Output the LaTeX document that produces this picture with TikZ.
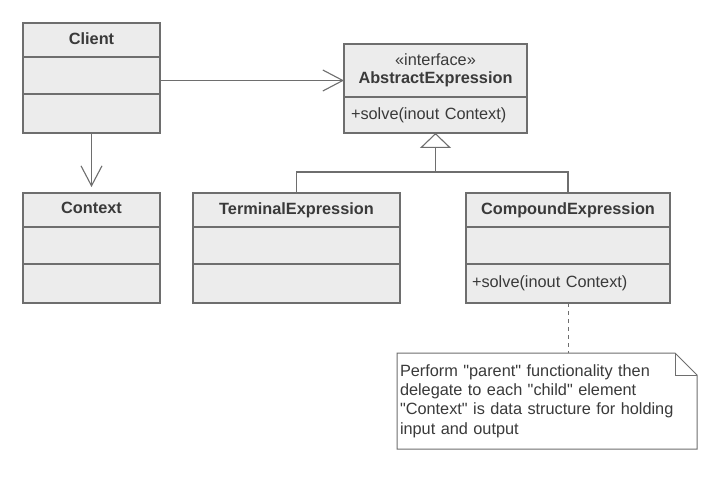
\documentclass[tikz,border=0pt]{standalone}
\usepackage{fontspec}
\setmainfont{Liberation Sans}
\newfontfamily\fontenota{Liberation Sans}
\usetikzlibrary{arrows.meta,positioning}

\definecolor{borda}{HTML}{6E6E6E}
\definecolor{fundo}{HTML}{ECECEC}
\definecolor{texto}{HTML}{3A3A3A}
\newcommand{\fonteuml}{\fontsize{16.3pt}{19.3pt}\selectfont}

\tikzset{
	caixa/.style={draw=borda,fill=fundo,line width=1.1pt,inner sep=0pt,outer sep=0pt,text=texto,font=\fonteuml,minimum width=#1},
	nome/.style={caixa=#1,minimum height=34pt,text depth=3.5pt,font=\fonteuml\bfseries},
	atrib/.style={caixa=#1,minimum height=37pt},
	vazio/.style={caixa=#1,minimum height=39pt},
	linha/.style={draw=borda,line width=1.1pt},
	assoc/.style={linha,-{Straight Barb[length=20pt,width=21pt]}},
	heranca/.style={linha,-{Triangle[length=15pt,width=31pt,fill=white]}},
	tracejado/.style={draw=borda,line width=0.9pt,dash pattern=on 4pt off 4pt},
	nota/.style={inner xsep=3pt,inner ysep=0pt,outer sep=0pt,text width=294pt,align=left,minimum width=300pt,minimum height=96pt,text=texto,font=\fontenota\fonteuml}
}

\begin{document}
\begin{tikzpicture}[x=1pt,y=-1pt]
	
	% fundo
	\fill[white] (0,0) rectangle (718,484);
	\useasboundingbox (0,0) rectangle (718,484);
	
	% Client
	\node[nome=137,anchor=north west] (client) at (23,23) {Client};
	\node[atrib=137,below=0pt of client] (client-atr) {};
	\node[vazio=137,below=0pt of client-atr] (client-met) {};
	
	% Context
	\node[nome=137,anchor=north west] (context) at (23,193) {Context};
	\node[atrib=137,below=0pt of context] (context-atr) {};
	\node[vazio=137,below=0pt of context-atr] (context-met) {};
	
	% interface
	\node[caixa=183,minimum height=53pt,anchor=north west,align=center] (abstrata) at (344,44)
	{«interface»\\[-1.3pt]\textbf{AbstractExpression}};
	\node[caixa=183,minimum height=36pt,inner xsep=7pt,text width=169pt,align=left,below=0pt of abstrata] (abstrata-met)
	{+solve(inout Context)};
	
	% TerminalExpression
	\node[nome=207,anchor=north west] (terminal) at (193,193) {TerminalExpression};
	\node[atrib=207,below=0pt of terminal] (terminal-atr) {};
	\node[vazio=207,below=0pt of terminal-atr] (terminal-met) {};
	
	% CompoundExpression
	\node[nome=204,anchor=north west] (composta) at (466,193) {CompoundExpression};
	\node[atrib=204,below=0pt of composta] (composta-atr) {};
	\node[caixa=204,minimum height=39pt,inner xsep=6pt,text width=192pt,align=left,below=0pt of composta-atr] (composta-met)
	{+solve(inout Context)};
	
	% nota
	\node[nota,anchor=north west] (nota) at (397,353)
	{Perform "parent" functionality then\\delegate to each "child" element\\"Context" is data structure for holding\\input and output};
	\draw[linha,line width=1pt] (nota.north west) -- ([xshift=-22pt]nota.north east)
	-- ([yshift=-22pt]nota.north east) -- (nota.south east) -- (nota.south west) -- cycle;
	\draw[linha,line width=1pt] ([xshift=-22pt]nota.north east) |- ([yshift=-22pt]nota.north east);
	
	% associacoes
	\coordinate (saida) at ([yshift=-5pt]client-atr.east);
	\draw[assoc] (saida) -- (saida -| abstrata.west);
	\draw[assoc,shorten >=6pt] (client-met.south) -- (context.north);
	
	% heranca
	\coordinate (juncao) at (435.5,172);
	\draw[linha] (terminal.north) |- (juncao) -| (composta.north);
	\draw[heranca] (juncao) -- (abstrata-met.south);
	
	% ligacao da nota
	\draw[tracejado] (composta-met.south) -- (composta-met.south |- nota.north);
	
\end{tikzpicture}
\end{document}
